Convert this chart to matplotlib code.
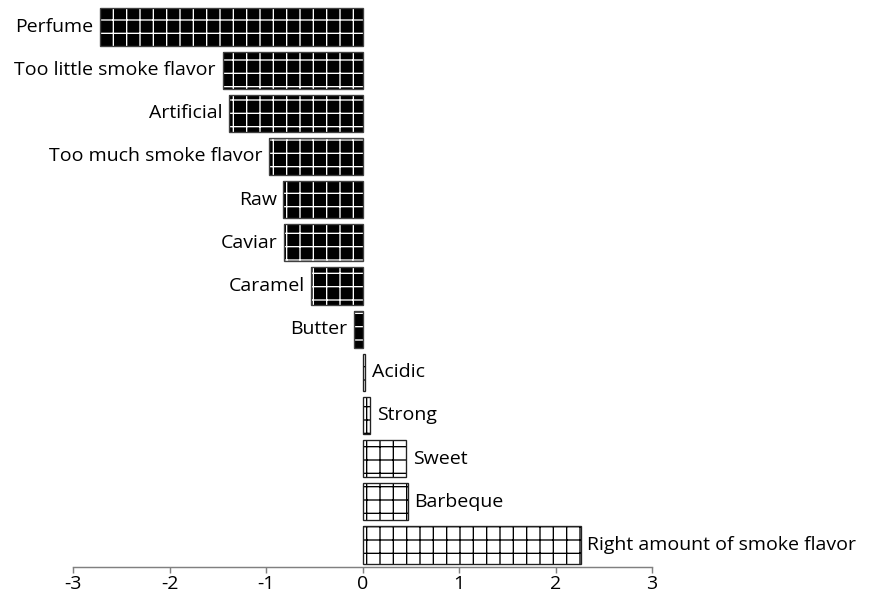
import matplotlib.pyplot as plt

# attributes, top to bottom
attributes = ["Perfume", "Too little smoke flavor", "Artificial", "Too much smoke flavor",
              "Raw", "Caviar", "Caramel", "Butter", "Acidic", "Strong", "Sweet",
              "Barbeque", "Right amount of smoke flavor"]
scores = [-2.72, -1.45, -1.38, -0.97, -0.82, -0.81, -0.53, -0.09, 0.03, 0.08, 0.45, 0.47, 2.26]
xticks = [-3, -2, -1, 0, 1, 2, 3]

plt.rcParams['font.family'] = ['Open Sans', 'DejaVu Sans']
plt.rcParams['hatch.linewidth'] = 1.2

fig = plt.figure(figsize=(877 / 80, 606 / 80), dpi=80)
ax = fig.add_axes([73 / 877, 39 / 606, 579 / 877, 567 / 606])

n = len(attributes)
ypos = [n - 1 - i for i in range(n)]
fs = 17.5

for y, v, name in zip(ypos, scores, attributes):
    if v < 0:
        # black fill, white grid
        ax.barh(y, v, height=0.86, color='black', edgecolor='white', hatch='+', linewidth=0)
        ax.barh(y, v, height=0.86, fill=False, edgecolor='#404040', linewidth=1.2)
        ax.annotate(name, (v, y), xytext=(-6, 0), textcoords='offset points',
                    ha='right', va='center', fontsize=fs)
    else:
        ax.barh(y, v, height=0.86, color='white', edgecolor='black', hatch='+', linewidth=0)
        ax.barh(y, v, height=0.86, fill=False, edgecolor='#222222', linewidth=1.2)
        ax.annotate(name, (v, y), xytext=(6, 0), textcoords='offset points',
                    ha='left', va='center', fontsize=fs)

ax.set_xlim(-3, 3)
ax.set_ylim(-0.51, n - 1 + 0.625)
ax.set_xticks(xticks)
ax.set_xticklabels([str(t) for t in xticks], fontsize=fs)
ax.set_yticks([])
for s in ['top', 'right', 'left']:
    ax.spines[s].set_visible(False)
ax.spines['bottom'].set_color('#808080')
ax.spines['bottom'].set_linewidth(1.3)
ax.tick_params(axis='x', colors='#808080', length=5, width=1.3, labelcolor='black', pad=2)

fig.savefig('out.png', dpi=80)
